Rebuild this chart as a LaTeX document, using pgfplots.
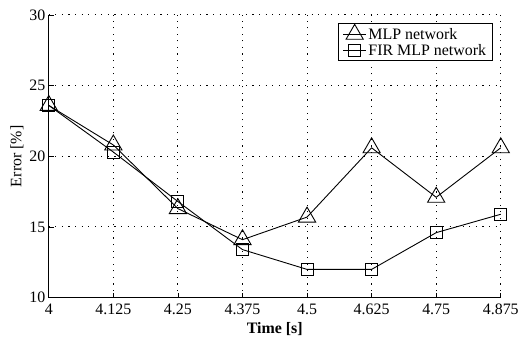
\documentclass[border=0pt]{standalone}
\usepackage{pgfplots}
\pgfplotsset{compat=1.18}
\usepackage{fontspec}
\setmainfont{Liberation Serif}
\begin{document}
\begin{tikzpicture}
\begin{axis}[
  scale only axis,
  width=454pt, height=284pt,
  xmin=4, xmax=4.875, ymin=10, ymax=30,
  xtick={4,4.125,4.25,4.375,4.5,4.625,4.75,4.875},
  xticklabels={4,4.125,4.25,4.375,4.5,4.625,4.75,4.875},
  ytick={10,15,20,25,30},
  /pgf/number format/assume math mode=true,
  axis x line*=bottom, axis y line*=left,
  axis line style={-, line width=1.2pt},
  tick style={black, line width=0.8pt},
  tick align=inside,
  major tick length=5pt,
  grid=major,
  major grid style={black, line width=1pt, dash pattern=on 1.1pt off 5.5pt},
  ticklabel style={font=\fontsize{16}{19}\selectfont},
  xticklabel style={yshift=-3pt},
  label style={font=\fontsize{16}{19}\selectfont},
  xlabel={\textbf{Time [s]}},
  ylabel={Error [\%]},
  xlabel style={yshift=-1pt},
  ylabel style={yshift=-1pt},
  legend style={at={(rel axis cs:0.982,0.972)}, anchor=north east,
    font=\fontsize{16}{17}\selectfont, draw=black, line width=1pt,
    inner xsep=4pt, inner ysep=1pt},
  legend cell align=left,
  legend image code/.code={%
    \draw[mark repeat=2,mark phase=2,#1]
      plot coordinates {(0cm,0cm) (0.4cm,0cm) (0.8cm,0cm)};},
  legend image post style={line width=0.9pt},
]
\addplot[black, line width=0.9pt, mark=triangle, mark size=10pt,
  mark options={line width=0.9pt, fill=none}]
coordinates {(4,23.6) (4.125,20.8) (4.25,16.3) (4.375,14.1) (4.5,15.7) (4.625,20.6) (4.75,17.1) (4.875,20.6)};
\addlegendentry{MLP network}
\addplot[black, line width=0.9pt, mark=square, mark size=6pt,
  mark options={line width=0.9pt, fill=none}]
coordinates {(4,23.6) (4.125,20.3) (4.25,16.8) (4.375,13.4) (4.5,12.0) (4.625,12.0) (4.75,14.6) (4.875,15.9)};
\addlegendentry{FIR MLP network}
\end{axis}
\path (current axis.south west) ++(-49pt,-44pt);
\path (current axis.north east) ++(19pt,15pt);
\end{tikzpicture}
\end{document}
